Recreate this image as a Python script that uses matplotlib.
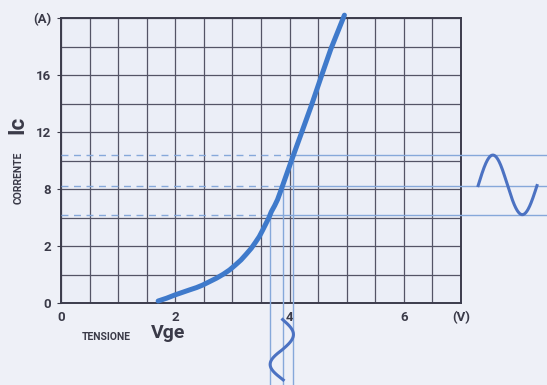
import numpy as np
import matplotlib
matplotlib.use("Agg")
import matplotlib.pyplot as plt
from matplotlib.ticker import MultipleLocator

# transfer characteristic Ic(Vge), y in grid divisions
vge = [1.70, 1.85, 1.99, 2.12, 2.25, 2.37, 2.48, 2.60, 2.72, 2.84, 2.95, 3.05, 3.15,
       3.24, 3.33, 3.40, 3.47, 3.53, 3.59, 3.64, 3.68, 3.74, 3.79, 3.85, 3.94, 4.03,
       4.20, 4.38, 4.55, 4.72, 4.96]
ic = [0.07, 0.17, 0.28, 0.37, 0.46, 0.54, 0.63, 0.75, 0.87, 1.01, 1.16, 1.33, 1.51,
      1.71, 1.92, 2.12, 2.33, 2.56, 2.80, 3.00, 3.20, 3.42, 3.63, 3.96, 4.47, 4.98,
      5.92, 6.92, 7.92, 8.90, 10.10]

x_ticks = [0, 2, 4, 6, 7]
x_labels = ["0", "2", "4", "6", "(V)"]
y_ticks = [0, 2, 4, 6, 8, 10]
y_labels = ["0", "2", "8", "12", "16", "(A)"]

# operating levels of the input swing (grid divisions)
levels = [3.10, 4.12, 5.19]

font = ["Roboto", "DejaVu Sans"]
ink = "#3a3a48"
bg = "#eef0f7"
curve_c = "#3f7acb"
wave_c = "#4c72c2"
guide_c = "#86a8da"

fig = plt.figure(figsize=(5.47, 3.85), dpi=100, facecolor=bg)
ax = fig.add_axes([61/547, 82/385, 400/547, 285/385], facecolor="#ebeef7")
ax.set_xlim(0, 7)
ax.set_ylim(0, 10)

ax.xaxis.set_minor_locator(MultipleLocator(0.5))
ax.yaxis.set_minor_locator(MultipleLocator(1))
ax.grid(which="both", color="#545466", lw=0.9)
ax.set_axisbelow(True)
for s in ax.spines.values():
    s.set_color("#3c3c4c")
    s.set_linewidth(1.4)

ax.set_xticks(x_ticks)
ax.set_xticklabels(x_labels)
ax.set_yticks(y_ticks)
ax.set_yticklabels(y_labels)
ax.tick_params(which="minor", length=0)
ax.tick_params(axis="y", which="major", length=3, color=ink, pad=4)
ax.tick_params(axis="x", which="major", length=0, pad=6)
for lab in ax.get_xticklabels() + ax.get_yticklabels():
    lab.set_family(font)
    lab.set_weight("bold")
    lab.set_fontsize(9.5)
    lab.set_color(ink)

# curve
ax.plot(vge, ic, color=curve_c, lw=3.6, solid_capstyle="round",
        solid_joinstyle="round", clip_on=False, zorder=5)

# projections of the three levels onto the curve
x_op = np.interp(levels, ic, vge)
x_right = (547 - 61) / 57.3
y_bottom = -(385 - 303) / 28.5
for lv, xo in zip(levels, x_op):
    ax.plot([0, xo], [lv, lv], color=guide_c, lw=1.0, ls=(0, (5, 4)), zorder=3)
    ax.plot([xo, x_right], [lv, lv], color=guide_c, lw=1.0, clip_on=False, zorder=3)
    ax.plot([xo, xo], [lv, y_bottom], color=guide_c, lw=1.0, clip_on=False, zorder=3)

# input sine on the right
xs = np.linspace(7.30, 8.33, 200)
s = np.sin(2 * np.pi * (xs - 7.30) / 1.03)
ys = levels[1] + np.where(s > 0, s * (levels[2] - levels[1]), s * (levels[1] - levels[0]))
ax.plot(xs, ys, color=wave_c, lw=2.2, clip_on=False, zorder=4)

# output sine below, distorted by the curve
yv = np.linspace(-0.58, -2.70, 200)
s = np.sin(2 * np.pi * (-0.58 - yv) / 2.10)
xv = x_op[1] + np.where(s > 0, s * (x_op[2] - x_op[1]), s * (x_op[1] - x_op[0]))
ax.plot(xv, yv, color=wave_c, lw=2.2, clip_on=False, zorder=4)

# axis titles
fig.text(82/547, 1 - 337/385, "TENSIONE", family=font, weight="bold", fontsize=7.5,
         color=ink, va="center", ha="left")
fig.text(151/547, 1 - 333/385, "Vge", family=font, weight="bold", fontsize=14,
         color=ink, va="center", ha="left")
fig.text(19/547, 1 - 178/385, "CORRENTE", family=font, weight="bold", fontsize=7.5,
         color=ink, va="center", ha="center", rotation=90)
fig.text(17/547, 1 - 125/385, "Ic", family=font, weight="bold", fontsize=16,
         color=ink, va="center", ha="center", rotation=90)

fig.savefig("out.png", dpi=100, facecolor=bg)
